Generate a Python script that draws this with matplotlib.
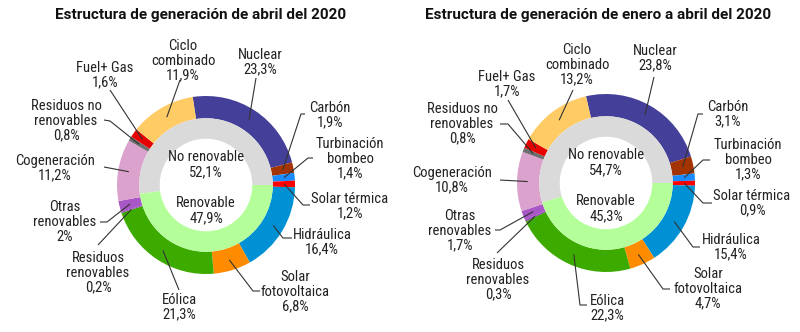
import numpy as np
import matplotlib
matplotlib.use('Agg')
import matplotlib.pyplot as plt

plt.rcParams['font.family'] = ['Roboto Condensed', 'Roboto', 'DejaVu Sans']

H = 332  # figure height in px, used to flip y (positions below are measured from the top)

### data
categories = ['Nuclear', 'Carbón', 'Turbinación\nbombeo', 'Solar térmica', 'Hidráulica',
              'Solar\nfotovoltaica', 'Eólica', 'Residuos\nrenovables', 'Otras\nrenovables',
              'Cogeneración', 'Residuos no\nrenovables', 'Fuel+ Gas', 'Ciclo\ncombinado']
abril = [23.3, 1.9, 1.4, 1.2, 16.4, 6.8, 21.3, 0.2, 2.0, 11.2, 0.8, 1.6, 11.9]
enero_abril = [23.8, 3.1, 1.3, 0.9, 15.4, 4.7, 22.3, 0.3, 1.7, 10.8, 0.8, 1.7, 13.2]

groups = ['No renovable', 'Renovable']
abril_grupo = [52.1, 47.9]
enero_abril_grupo = [54.7, 45.3]

titles = ['Estructura de generación de abril del 2020',
          'Estructura de generación de enero a abril del 2020']

colors = ['#443f98', '#a33300', '#1a8cff', '#ff0000', '#0091d5', '#ff8c00', '#3daa00',
          '#9540b5', '#a957c6', '#dca2ce', '#6e6e6e', '#e60000', '#ffcb65']
group_colors = ['#dadada', '#b4ff9a']

### layout (px, from top-left)
centers = [(206, 185), (606, 183)]
R = 89
starts = [98.6, 103]
title_x = [201, 598]

label_pos = [
    [(260, 62), (330, 115), (350, 159), (350, 206), (322, 242), (295, 292), (179, 307),
     (98, 273), (65, 222), (55, 168), (66, 121), (105, 75), (183, 61)],
    [(655, 58), (728, 114), (748, 160), (752, 203), (731, 247), (708, 289), (607, 308),
     (498, 280), (460, 231), (452, 180), (462, 124), (507, 84), (577, 65)],
]
line_end = [
    [(256, 78), (305, 114), (313, 158), (310, 205), (292, 238), (260, 291), (179, 290),
     (98, 245), (100, 222), (104, 167), (104, 120), (110, 90), (180, 80)],
    [(654, 77), (703, 114), (710, 160), (712, 203), (700, 247), (670, 289), (587, 305),
     (497, 253), (495, 230), (500, 180), (500, 124), (508, 100), (573, 90)],
]
elbows = [
    [None, (301, 114), (308, 158), (303, 205), (283, 238), (253, 291), None,
     None, (107, 222), None, (110, 121), None, None],
    [None, (698, 114), (703, 160), (703, 203), (693, 247), (663, 289), (580, 305),
     None, (500, 230), None, (508, 124), None, None],
]


def pct(v):
    s = ('%d' % v) if v == int(v) else ('%.1f' % v).replace('.', ',')
    return s + '%'


fig = plt.figure(figsize=(8, 3.32), dpi=100)
ax = fig.add_axes([0, 0, 1, 1])

txt = '#222222'
for k, (vals, gvals) in enumerate([(abril, abril_grupo), (enero_abril, enero_abril_grupo)]):
    cx, cy = centers[k]
    c = (cx, H - cy)
    wedges, _ = ax.pie(vals, colors=colors, startangle=starts[k], counterclock=False,
                       radius=R, center=c, frame=True,
                       wedgeprops=dict(width=0.25 * R, linewidth=0))
    ax.pie(gvals, colors=group_colors, startangle=0, counterclock=True,
           radius=0.75 * R, center=c, frame=True,
           wedgeprops=dict(width=0.23 * R, linewidth=0))
    ax.text(cx, H - (cy - 20), groups[0] + '\n' + pct(gvals[0]), ha='center', va='center',
            fontsize=10.5, color=txt, linespacing=1.1)
    ax.text(cx, H - (cy + 26), groups[1] + '\n' + pct(gvals[1]), ha='center', va='center',
            fontsize=10.5, color=txt, linespacing=1.1)

    # outer labels with connector lines
    for i, w in enumerate(wedges):
        ang = np.deg2rad((w.theta1 + w.theta2) / 2)
        ax_pt = (cx + 0.88 * R * np.cos(ang), H - cy + 0.88 * R * np.sin(ang))
        pts = [line_end[k][i]]
        if elbows[k][i] is not None:
            pts.append(elbows[k][i])
        xs = [p[0] for p in pts] + [ax_pt[0]]
        ys = [H - p[1] for p in pts] + [ax_pt[1]]
        ax.plot(xs, ys, color='#333333', lw=0.8, solid_capstyle='butt')
        lx, ly = label_pos[k][i]
        ax.text(lx, H - ly, categories[i] + '\n' + pct(vals[i]), ha='center', va='center',
                multialignment='center', fontsize=10.5, color=txt, linespacing=1.05)

    ax.text(title_x[k], H - 15, titles[k], ha='center', va='center', fontsize=11,
            fontweight='bold', color='#111111', family=['Roboto', 'DejaVu Sans'])

ax.set_xlim(0, 800)
ax.set_ylim(0, H)
ax.set_aspect('equal')
ax.axis('off')
fig.savefig('out.png', dpi=100)
